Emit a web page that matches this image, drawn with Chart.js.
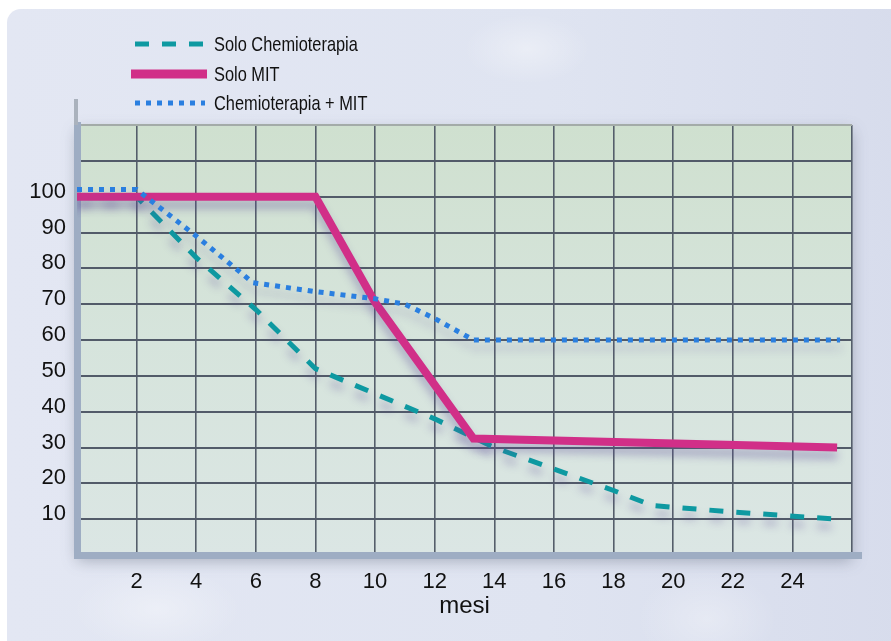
<!DOCTYPE html>
<html>
<head>
<meta charset="utf-8">
<script src="https://cdn.jsdelivr.net/npm/chart.js@4.4.1/dist/chart.umd.min.js"></script>
<style>
  html, body { margin: 0; padding: 0; background: #ffffff; }
  body { width: 891px; height: 641px; overflow: hidden; position: relative; }
  .card {
    position: absolute; left: 7px; top: 9px; width: 900px; height: 650px;
    border-radius: 14px 0 0 0;
    background:
      radial-gradient(ellipse 90px 50px at 520px 40px, rgba(255,255,255,0.35), rgba(255,255,255,0) 70%),
      radial-gradient(ellipse 120px 60px at 150px 600px, rgba(255,255,255,0.35), rgba(255,255,255,0) 70%),
      radial-gradient(ellipse 100px 70px at 700px 610px, rgba(255,255,255,0.3), rgba(255,255,255,0) 70%),
      linear-gradient(90deg, #e3e7f3 0%, #dfe4f1 60%, #d7dcec 100%);
  }
  #wrap { position: absolute; left: 0; top: 0; width: 891px; height: 641px; }
  #legend { position: absolute; left: 128px; top: 29px; font-family: 'Liberation Sans', Arial, sans-serif; font-size: 21px; color: #111; }
  #legend .item { position: relative; height: 29.5px; line-height: 29.5px; white-space: nowrap; }
  #legend svg { position: absolute; left: 0; top: 0; }
  #legend span { position: absolute; left: 86px; top: 0; transform: scaleX(0.78); transform-origin: 0 50%; }
</style>
</head>
<body>
<div class="card"></div>
<div id="wrap"><canvas id="survivalChart" width="891" height="641"></canvas></div>
<div id="legend"></div>
<script>
// months (x) and percentages (y)
const seriesNames = ['Solo Chemioterapia', 'Solo MIT', 'Chemioterapia + MIT'];

const chemoMonths = [0, 2, 4, 6, 8, 10, 12, 14, 16, 18, 19.3, 22, 25.5];
const chemoValues = [100, 100, 83, 68.5, 52, 45, 38, 30, 24, 18, 13.8, 12, 10];

const mitMonths = [0, 8, 10, 13.3, 25.5];
const mitValues = [100, 100, 70.5, 32.5, 30];

const comboMonths = [0, 2, 4, 5.9, 8, 10, 11, 12, 13.3, 25.6];
const comboValues = [102, 102, 89, 76, 73.5, 71.5, 70, 66, 60, 60];

const xTickLabels = [2, 4, 6, 8, 10, 12, 14, 16, 18, 20, 22, 24];
const yTickLabels = [10, 20, 30, 40, 50, 60, 70, 80, 90, 100];

const FONT = "'Liberation Sans', Arial, sans-serif";
const AXIS_BAR = '#9eadc3';

function toPoints(xs, ys) {
    return xs.map((x, i) => ({ x: x, y: ys[i] }));
}

// light green plot background
const plotBackground = {
    id: 'plotBackground',
    beforeDraw(chart) {
        const { ctx, chartArea: a } = chart;
        ctx.save();
        ctx.shadowColor = 'rgba(60,70,90,0.35)';
        ctx.shadowBlur = 14;
        ctx.shadowOffsetY = 6;
        const g = ctx.createLinearGradient(0, a.top, 0, a.bottom);
        g.addColorStop(0, '#cfe0cf');
        g.addColorStop(0.5, '#d6e4dc');
        g.addColorStop(1, '#dbe6e4');
        ctx.fillStyle = g;
        ctx.fillRect(a.left, a.top, a.right - a.left, a.bottom - a.top);
        ctx.restore();
    },
    // the axis bars run a little past the plot area
    afterDraw(chart) {
        const { ctx, chartArea: a } = chart;
        ctx.save();
        ctx.fillStyle = '#aab2bd';
        ctx.fillRect(a.left - 3, a.top - 26, 4, 26);
        ctx.fillStyle = AXIS_BAR;
        ctx.fillRect(a.right, a.bottom - 3, 10, 7);
        ctx.restore();
    }
};

// soft drop shadow under the lines
const lineShadow = {
    id: 'lineShadow',
    beforeDatasetDraw(chart) {
        const ctx = chart.ctx;
        ctx.save();
        ctx.shadowColor = 'rgba(90,70,150,0.38)';
        ctx.shadowBlur = 9;
        ctx.shadowOffsetY = 8;
    },
    afterDatasetDraw(chart) {
        chart.ctx.restore();
    }
};

const ctx = document.getElementById('survivalChart').getContext('2d');

const chart = new Chart(ctx, {
    type: 'line',
    data: {
        datasets: [
            {
                label: seriesNames[0],
                data: toPoints(chemoMonths, chemoValues),
                borderColor: '#0e99a1',
                borderWidth: 5,
                borderDash: [14, 13],
                order: 3
            },
            {
                label: seriesNames[1],
                data: toPoints(mitMonths, mitValues),
                borderColor: '#d12f88',
                borderWidth: 8,
                order: 2
            },
            {
                label: seriesNames[2],
                data: toPoints(comboMonths, comboValues),
                borderColor: '#2a7fe0',
                borderWidth: 5,
                borderDash: [5, 6],
                order: 1
            }
        ]
    },
    options: {
        responsive: false,
        animation: false,
        devicePixelRatio: 1,
        layout: { padding: { top: 125, right: 39, left: 0, bottom: 0 } },
        elements: {
            point: { radius: 0 },
            line: { tension: 0, fill: false, borderCapStyle: 'butt', borderJoinStyle: 'miter' }
        },
        scales: {
            x: {
                type: 'linear',
                min: 0,
                max: 26,
                afterFit(scale) { scale.height = 86; },
                border: { display: true, color: AXIS_BAR, width: 7 },
                grid: { color: '#555e6b', lineWidth: 1.6, drawTicks: false },
                ticks: {
                    stepSize: 2,
                    padding: 14,
                    color: '#111',
                    font: { family: FONT, size: 22 },
                    callback: v => xTickLabels.includes(v) ? String(v) : ''
                },
                title: {
                    display: true,
                    text: 'mesi',
                    color: '#111',
                    font: { family: FONT, size: 24 },
                    padding: { top: 0, bottom: 20 }
                }
            },
            y: {
                min: 0,
                max: 120,
                afterFit(scale) { scale.width = 77; },
                border: { display: true, color: AXIS_BAR, width: 7 },
                grid: {
                    color: c => c.tick && c.tick.value === 120 ? '#a3aba8' : '#525b69',
                    lineWidth: 2,
                    drawTicks: false
                },
                ticks: {
                    stepSize: 10,
                    padding: 11,
                    labelOffset: -5,
                    color: '#111',
                    font: { family: FONT, size: 22 },
                    callback: v => yTickLabels.includes(v) ? String(v) : ''
                }
            }
        },
        plugins: {
            legend: { display: false },
            tooltip: { enabled: false }
        }
    },
    plugins: [plotBackground, lineShadow]
});

// legend built from the datasets (vertical list, top left)
const legendEl = document.getElementById('legend');
chart.data.datasets.forEach(ds => {
    const item = document.createElement('div');
    item.className = 'item';
    const w = ds.borderWidth + (ds.borderDash ? 0 : 1);
    const dash = ds.borderDash ? ds.borderDash.join(',') : 'none';
    item.innerHTML =
        '<svg width="82" height="30"><line x1="' + (ds.borderDash ? 7 : 3) + '" y1="15" x2="' + (ds.borderDash ? 77 : 79) +
        '" y2="15" stroke="' + ds.borderColor + '" stroke-width="' + w + '" stroke-dasharray="' + dash + '"/></svg>' +
        '<span>' + ds.label + '</span>';
    legendEl.appendChild(item);
});
</script>
</body>
</html>
